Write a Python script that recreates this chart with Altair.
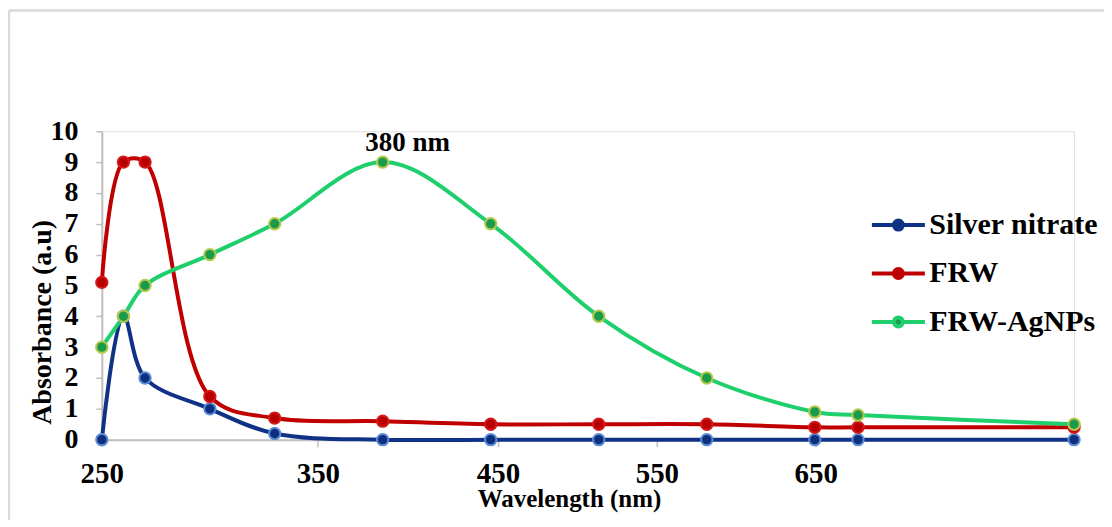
import altair as alt
import pandas as pd

# ---- data ----
wavelength = [250, 260, 270, 300, 330, 380, 430, 480, 530, 580, 600, 700]
silver_nitrate = [0, 4, 2, 1, 0.2, 0, 0, 0, 0, 0, 0, 0]
frw = [5.1, 9, 9, 1.4, 0.7, 0.6, 0.5, 0.5, 0.5, 0.4, 0.4, 0.4]
frw_agnps = [3, 4, 5, 6, 7, 9, 7, 4, 2, 0.9, 0.8, 0.5]
series_names = ["Silver nitrate", "FRW", "FRW-AgNPs"]
x_tick_labels = ["250", "350", "450", "550", "650"]
y_ticks = [0, 1, 2, 3, 4, 5, 6, 7, 8, 9, 10]
peak_wavelength = [380]
peak_value = [9]
peak_text = ["380 nm"]

rows = []
for name, vals in zip(series_names, [silver_nitrate, frw, frw_agnps]):
    for w, v in zip(wavelength, vals):
        rows.append({"series": name, "wavelength": w, "absorbance": v})
df = pd.DataFrame(rows)
peak_df = pd.DataFrame({"wavelength": peak_wavelength, "absorbance": peak_value, "label": peak_text})

line_colors = ["#0F3287", "#C00000", "#1ECF6C"]
point_fills = ["#0E2E7E", "#B80000", "#1A9A4C"]
point_strokes = ["#5A8DD4", "#D41A1A", "#B7C94C"]

FONT = "Liberation Serif"

# tick positions as placed on the reference's axis
x_tick_pos = [250, 350, 433.4, 506.9, 580.4]
label_expr = ("datum.value < 300 ? '250' : datum.value < 400 ? '350' : "
              "datum.value < 470 ? '450' : datum.value < 540 ? '550' : '650'")

x_axis = alt.Axis(
    values=x_tick_pos, labelExpr=label_expr, grid=False, labelOverlap=False,
    domainColor="#BFBFBF", domainWidth=2, tickColor="#BFBFBF", tickWidth=1.5, tickSize=7,
    labelFont=FONT, labelFontSize=29, labelFontWeight="bold", labelColor="black",
    labelPadding=13, labelFlush=False,
    title="Wavelength (nm)", titleFont=FONT, titleFontSize=25, titleFontWeight="bold",
    titleColor="black", titleX=468, titleY=59, titleBaseline="middle", titleAlign="center",
)
y_axis = alt.Axis(
    values=y_ticks, tickCount=11, grid=False, labelOverlap=False, labelFlush=False,
    domainColor="#BFBFBF", domainWidth=2, tickColor="#BFBFBF", tickWidth=1.5, tickSize=6,
    labelFont=FONT, labelFontSize=28, labelFontWeight="bold", labelColor="black",
    labelPadding=18,
    title="Absorbance (a.u)", titleFont=FONT, titleFontSize=28, titleFontWeight="bold",
    titleColor="black", titleX=-59, titleY=191, titleBaseline="middle", titleAlign="center",
    titleAngle=-90,
)
x_scale = alt.Scale(domain=[250, 700], nice=False, zero=False)
y_scale = alt.Scale(domain=[0, 10], nice=False)


def xe():
    return alt.X("wavelength:Q", scale=x_scale, axis=x_axis)


def ye():
    return alt.Y("absorbance:Q", scale=y_scale, axis=y_axis)


legend_path = ("M-1.77,0 L-0.3,0 M0.3,0 L1.77,0 "
               "M-0.3,0 A0.3,0.3 0 1,0 0.3,0 A0.3,0.3 0 1,0 -0.3,0 Z")

common_legend = dict(
    title=None, orient="none", legendX=781, legendY=77, symbolSize=900,
    symbolType=legend_path, symbolStrokeWidth=4, symbolOpacity=1,
    labelFont=FONT, labelFontSize=30, labelFontWeight="bold", labelColor="black",
    labelOffset=14, rowPadding=16.5, padding=0, labelLimit=400,
)

lines = alt.Chart(df).mark_line(interpolate="catmull-rom", strokeWidth=4).encode(
    x=xe(),
    y=ye(),
    color=alt.Color(
        "series:N",
        scale=alt.Scale(domain=series_names, range=line_colors),
        sort=series_names,
        legend=alt.Legend(**common_legend),
    ),
)

points = alt.Chart(df).mark_point(filled=True, size=130, strokeWidth=2, opacity=1).encode(
    x=xe(),
    y=ye(),
    fill=alt.Fill(
        "series:N",
        scale=alt.Scale(domain=series_names, range=point_fills),
        sort=series_names,
        legend=alt.Legend(**common_legend),
    ),
    stroke=alt.Stroke("series:N", scale=alt.Scale(domain=series_names, range=point_strokes), legend=None),
)

peak_label = alt.Chart(peak_df).mark_text(
    font=FONT, fontSize=27, fontWeight="bold", color="black", dx=25, dy=-19, baseline="middle"
).encode(x=xe(), y=ye(), text="label:N")

border_top = alt.Chart(peak_df).mark_rule(color="#D9D9D9", strokeWidth=2.5).encode(
    x=alt.value(-93), x2=alt.value(1010), y=alt.value(-121)
)
border_left = alt.Chart(peak_df).mark_rule(color="#D9D9D9", strokeWidth=2.5).encode(
    x=alt.value(-93), y=alt.value(-121), y2=alt.value(400)
)

chart = alt.layer(border_top, border_left, lines, points, peak_label).properties(
    width=974, height=309,
    autosize=alt.AutoSizeParams(type="none"),
    padding={"left": 94, "top": 123, "right": 30, "bottom": 80},
).configure_view(stroke=None).configure(background="white")

chart.save("out.html", embed_options={"renderer": "svg", "actions": False})
